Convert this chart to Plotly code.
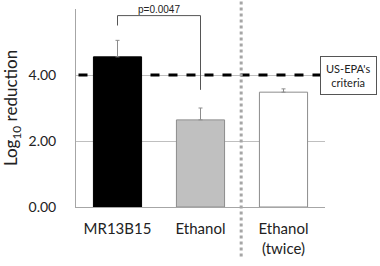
import plotly.graph_objects as go

categories = ["MR13B15", "Ethanol", "Ethanol<br>(twice)"]
values = [4.55, 2.64, 3.48]
errors = [0.50, 0.36, 0.10]
bar_colors = ["#000000", "#c0c0c0", "#ffffff"]
line_colors = ["#000000", "#8c8c8c", "#8c8c8c"]
criteria = 4.0
p_label = "p=0.0047"
ytick_vals = [0, 2, 4]
ytick_text = ["0.00", "2.00", "4.00"]

fig = go.Figure()
fig.add_trace(go.Bar(
    x=categories, y=values, width=0.58,
    marker=dict(color=bar_colors, line=dict(color=line_colors, width=1)),
    error_y=dict(type="data", array=errors, arrayminus=[0, 0, 0], symmetric=False,
                 color="#8c8c8c", thickness=1, width=2),
))

FONT = "Lato"
fig.update_layout(
    width=380, height=266,
    margin=dict(l=70, r=55, t=9, b=59),
    paper_bgcolor="white", plot_bgcolor="white",
    showlegend=False,
    font=dict(family=FONT, size=13, color="#222222"),
    xaxis=dict(range=[-0.5, 2.5], showline=True, linecolor="#a6a6a6", linewidth=1,
               ticks="", tickfont=dict(size=15, family=FONT, color="#222222"), showgrid=False,
               ticklabelstandoff=8),
    yaxis=dict(range=[0, 6], tickvals=ytick_vals, ticktext=ytick_text,
               showline=True, linecolor="#a6a6a6", linewidth=1, ticks="",
               showgrid=True, gridcolor="#bfbfbf", gridwidth=1, zeroline=False,
               ticklabelstandoff=16,
               tickfont=dict(size=14, family=FONT, color="#222222"),
               title=dict(text="Log<sub>10</sub> reduction", font=dict(size=17, family=FONT, color="#222222"),
                          standoff=8)),
)

# criteria dashed line
fig.add_shape(type="line", xref="x", yref="y", x0=-0.47, x1=2.44, y0=criteria, y1=criteria,
              line=dict(color="#000000", width=3, dash="dash"))
# vertical dotted separator
fig.add_shape(type="line", xref="x", yref="paper", x0=1.49, x1=1.49, y0=-0.25, y1=1.04,
              line=dict(color="#a6a6a6", width=3, dash="dot"))
# significance bracket
fig.add_shape(type="path", xref="x", yref="y",
              path="M 0,5.5 L 0,5.8 L 1,5.8 L 1,3.55",
              line=dict(color="#555555", width=1))
fig.add_annotation(x=0.5, y=5.8, xref="x", yref="y", text=p_label, showarrow=False,
                   yanchor="bottom", yshift=-1, font=dict(size=10, family="Liberation Sans", color="#222222"))
# criteria label box
fig.add_annotation(x=1.0, y=criteria, xref="paper", yref="y", xanchor="left",
                   xshift=-5, text="US-EPA's<br>criteria", showarrow=False,
                   bordercolor="#555555", borderwidth=1, borderpad=5, bgcolor="white",
                   font=dict(size=11, family=FONT, color="#222222"), align="center")

fig.write_html("out.html")
